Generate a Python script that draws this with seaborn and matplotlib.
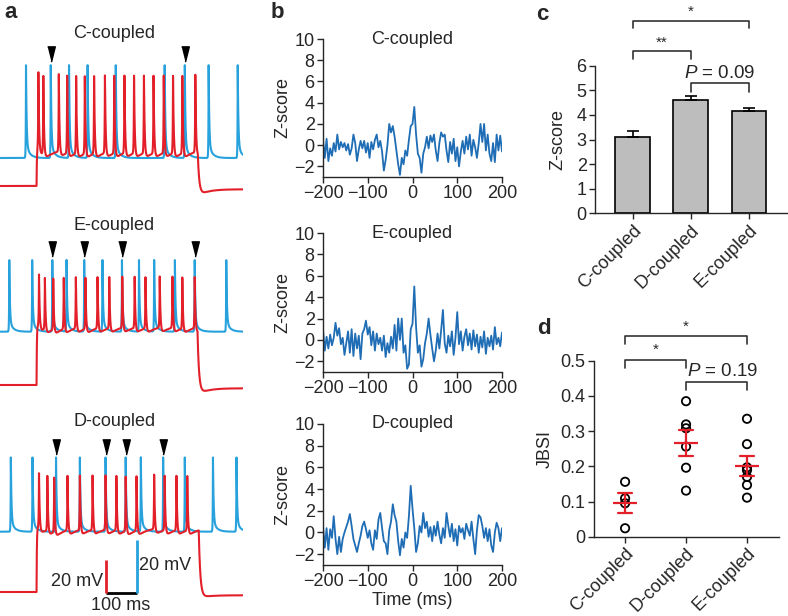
import numpy as np
import pandas as pd
import matplotlib
matplotlib.use("Agg")
import matplotlib.pyplot as plt
import seaborn as sns

sns.set_style("ticks")
plt.rcParams['font.family'] = ['Liberation Sans', 'DejaVu Sans']
plt.rcParams['mathtext.fontset'] = 'custom'
plt.rcParams['mathtext.it'] = 'Liberation Sans:italic'
plt.rcParams['mathtext.rm'] = 'Liberation Sans'

W, H = 788, 616
FS = 13

# ---------------- data ----------------
# panel a: spike times (ms) of the paired recordings
c_blue = [84, 164, 223, 283, 374, 532, 597, 674, 768]
c_red = [124, 140, 190, 217, 246, 274, 304, 339, 369, 402, 433, 465, 496, 529, 559, 589, 631]
e_blue = [30, 104, 169, 215, 272, 331, 394, 449, 498, 565, 629, 731]
e_red = [126, 145, 172, 206, 245, 276, 315, 353, 395, 435, 470, 516, 557, 589, 629]
d_blue = [35, 105, 181, 258, 341, 406, 455, 527, 597, 688, 764]
d_red = [126, 153, 175, 218, 258, 299, 341, 376, 406, 441, 498, 532, 570, 605]
c_coupled = [1, 6]
e_coupled = [2, 4, 6, 10]
d_coupled = [2, 4, 5, 7]
step_on = [118, 118, 118]
step_off = [639, 638, 642]

# panel b: spike-triggered cross-correlograms (z-score), 4 ms bins
lags = np.arange(-200, 201, 4)
z_c = [0.5, -1.2, 0.6, -1.5, -0.3, -1.0, 0.2, -0.6, 1.0, -0.4, 0.3, -0.2, 0.2, -0.5, 0.1, -0.9,
       -0.3, 1.0, 0.2, -1.5, -0.4, 0.4, -0.3, 0.4, -0.7, 0.2, -1.2, 0.3, -0.4, 0.5, 1.0, -0.2,
       0.4, -0.6, -2.4, -1.4, 0.0, 2.0, 1.2, 1.8, 0.8, -0.5, -1.8, -2.8, -1.2, -1.8, -0.5, -1.0,
       0.5, 1.8, 2.0, 3.6, 1.0, -0.8, -1.2, -2.6, -0.8, -0.2, 0.8, -0.3, 0.9, 0.3, 1.0, -0.5,
       -1.5, 0.2, 1.2, 0.8, 1.0, -0.5, -1.6, 0.3, -0.8, 0.6, -1.5, -0.2, -2.0, -0.6, 0.4, -0.8,
       0.8, -0.4, 1.0, -1.0, 0.5, -0.2, -1.2, 0.2, 2.0, 0.3, 2.0, -0.5, 1.0, -0.8, -1.5, 0.2,
       -1.6, 1.0, -0.5, 0.9, -0.6]
z_e = [1.0, -1.0, 0.3, -0.8, 0.5, -0.5, 0.2, 1.6, 0.4, 1.1, -0.4, 0.2, -1.4, -0.3, 0.8, -1.2,
       1.0, -1.5, 0.6, -0.8, 0.4, -1.8, 0.6, 1.0, 1.8, 0.5, 1.2, -0.5, 0.8, -1.0, 0.6, -0.4,
       0.2, -1.0, 0.4, -1.6, -0.3, -1.2, 0.3, -0.8, 1.4, -1.0, 2.0, 0.0, 2.0, -1.2, -0.5, -2.7,
       -2.3, 1.0, 1.5, 5.0, 1.2, -1.2, -0.5, -2.5, -1.8, -0.3, 0.6, 2.0, 0.5, -0.8, -2.0, -1.0,
       0.6, -0.8, 0.9, 2.8, -0.3, -1.2, 0.4, -0.6, 0.8, -1.4, 0.2, 2.6, -0.4, 0.8, -1.0, 0.3,
       1.0, -0.5, 0.6, -0.9, 0.9, -0.6, 0.5, -1.2, 0.3, -0.7, 0.8, -1.3, 0.2, -0.6, 0.4, -0.9,
       1.2, -0.4, 0.2, -0.6, 0.7]
z_d = [0.6, -1.4, 0.4, -1.6, 0.3, -0.5, 1.5, -0.6, -2.0, -0.4, -1.8, -0.6, 0.0, 0.5, 1.0, 1.7,
       0.6, -0.6, -1.2, -1.8, -1.0, -0.3, 0.6, 1.0, 0.3, -0.5, 0.2, -1.0, -1.6, 0.2, -0.6, 1.2,
       1.8, 0.4, -0.8, -1.0, -2.0, 0.2, 1.0, 2.6, 1.6, 1.0, -0.8, -2.1, -0.6, -1.4, 0.0, -0.5,
       1.5, 4.3, 2.2, 0.4, -1.8, -1.0, 0.6, 0.0, 1.8, 0.4, 1.0, -0.4, 0.5, -0.8, 0.6, -0.3,
       1.0, -0.2, -1.0, 0.4, -0.5, 1.8, 0.6, -0.4, 0.8, -0.8, 0.3, -1.2, 0.6, 0.0, 0.4, -0.6,
       0.8, 0.2, -0.3, 1.0, -0.6, -2.0, 0.2, 1.6, 1.4, 0.6, -0.5, 0.4, -0.8, 0.3, -1.2, -1.8,
       0.0, 0.9, 0.4, -0.8, 0.4]

# panel c: peak z-score, mean and s.e.m.
groups = ["C-coupled", "D-coupled", "E-coupled"]
peak_mean = [3.1, 4.6, 4.15]
peak_sem = [0.23, 0.18, 0.15]

# panel d: JBSI per pair
jbsi_c = [0.156, 0.109, 0.095, 0.024]
jbsi_d = [0.385, 0.319, 0.308, 0.256, 0.196, 0.131]
jbsi_e = [0.335, 0.263, 0.197, 0.189, 0.170, 0.147, 0.111]

RED = "#e3202a"
LBLUE = "#27a2dc"
BLUE = "#1f6db5"


def rect(l, t, r, b):
    return [l / W, 1 - b / H, (r - l) / W, (b - t) / H]


fig = plt.figure(figsize=(W / 100, H / 100), dpi=100)


# ---------------- panel a ----------------
def kern(t, ts, rise, decay):
    dt = t - ts
    return np.where(dt < 0, np.exp(-np.abs(dt) / rise), np.exp(-np.abs(dt) / decay))


t = np.arange(0, 785, 0.25)
axa = fig.add_axes(rect(0, 0, 243, 616))
axa.set_xlim(0, 785)
axa.set_ylim(616, 0)
axa.axis("off")

red_scale = 33 / 20   # px per mV
blue_scale = 53 / 20

cells = [
    ("C-coupled", c_blue, c_red, c_coupled, 158, 186, 35, 47, 22, 33),
    ("E-coupled", e_blue, e_red, e_coupled, 331.7, 385, 27, 31, 36, 225),
    ("D-coupled", d_blue, d_red, d_coupled, 531.7, 592, 28, 33, 39, 422),
]
for i, (name, bsp, rsp, cpl, bbase, rbase, bamp, ramp, rstep, ty) in enumerate(cells):
    vb = np.zeros_like(t)
    for s in bsp:
        vb += bamp * (0.86 * kern(t, s, 0.7, 2.0) + 0.14 * kern(t, s, 0.7, 12))
    on, off = step_on[i], step_off[i]
    vr = np.zeros_like(t)
    m_on = (t >= on) & (t < off)
    vr[m_on] = rstep * (1 - np.exp(-(t[m_on] - on) / 1.0))
    m_off = t >= off
    vr[m_off] = rstep * np.exp(-(t[m_off] - off) / 5) - 2 * (1 - np.exp(-(t[m_off] - off) / 5))
    for s in rsp:
        vr += ramp * kern(t, s, 0.9, 2.4)
        dt = np.clip(t - s, 0, None)
        vr -= 4 * np.where(t > s, np.exp(-dt / 30) * (1 - np.exp(-dt / 2)), 0)
    sns.lineplot(x=t, y=bbase - vb * blue_scale, ax=axa, color=LBLUE, lw=1.5)
    sns.lineplot(x=t, y=rbase - vr * red_scale, ax=axa, color=RED, lw=1.5)
    cs = [bsp[k] for k in cpl]
    axa.plot(cs, [bbase - bamp * blue_scale - 11] * len(cs), ls="none", color="k",
             marker=[(-0.5, 1), (0.5, 1), (0, -1)], ms=11)
    axa.text(370, ty, name, ha="center", va="center", fontsize=FS)

# scale bars
sb_x, sb_y = 341, 592.7
axa.plot([sb_x, sb_x + 100], [sb_y, sb_y], color="k", lw=2, solid_capstyle="butt")
axa.plot([sb_x, sb_x], [sb_y, sb_y - 20 * red_scale], color=RED, lw=2, solid_capstyle="butt")
axa.plot([sb_x + 100, sb_x + 100], [sb_y, sb_y - 20 * blue_scale], color=LBLUE, lw=2, solid_capstyle="butt")
axa.text(sb_x - 7, 581, "20 mV", ha="right", va="center", fontsize=FS)
axa.text(sb_x + 107, 566, "20 mV", ha="left", va="center", fontsize=FS)
axa.text(sb_x + 50, 606, "100 ms", ha="center", va="center", fontsize=FS)


def style(ax):
    sns.despine(ax=ax)
    ax.tick_params(direction="out", length=4, width=1, labelsize=FS, pad=2)
    for sp in ax.spines.values():
        sp.set_linewidth(1)


# ---------------- panel b ----------------
b_rects = [(323, 39, 502, 177), (323, 233, 502, 372), (323, 424, 502, 565)]
for (name, z), r in zip([("C-coupled", z_c), ("E-coupled", z_e), ("D-coupled", z_d)], b_rects):
    ax = fig.add_axes(rect(*r))
    sns.lineplot(x=lags, y=z, ax=ax, color=BLUE, lw=1.3)
    ax.set_xlim(-200, 200)
    ax.set_ylim(-3, 10)
    ax.set_xticks([-200, -100, 0, 100, 200])
    ax.set_yticks(range(-2, 11, 2))
    ax.set_ylabel("Z-score", fontsize=FS, labelpad=2)
    ax.text(0, 10, name, ha="center", va="center", fontsize=FS)
    style(ax)
ax.set_xlabel("Time (ms)", fontsize=FS, labelpad=1)


def bracket(ax, x1, x2, y, h, txt, ty, tx=None, fs=FS):
    ax.plot([x1, x1, x2, x2], [y - h, y, y, y - h], color="#333333", lw=1.2, clip_on=False)
    ax.text((x1 + x2) / 2 if tx is None else tx, ty, txt, ha="center", va="center",
            fontsize=fs, clip_on=False)


# ---------------- panel c ----------------
axc = fig.add_axes(rect(595, 65.7, 786.7, 213.3))
dfc = pd.DataFrame({"group": groups, "z": peak_mean})
sns.barplot(data=dfc, x="group", y="z", ax=axc, color="#bdbdbd", edgecolor="k",
            linewidth=1.2, width=0.6, saturation=1)
axc.errorbar(range(len(groups)), peak_mean, yerr=[np.zeros(3), peak_sem], fmt="none",
             ecolor="k", elinewidth=1.2, capsize=4.5, capthick=1.2, zorder=1)
axc.set_xlim(-0.65, 2.65)
axc.set_ylim(0, 6)
axc.set_yticks(range(0, 7))
axc.set_xlabel("")
axc.set_ylabel("Z-score", fontsize=FS, labelpad=7)
axc.set_xticks(range(3))
axc.set_xticklabels(groups, rotation=45, ha="right", rotation_mode="anchor")
style(axc)
bracket(axc, 0, 2, 7.83, 0.3, "*", 8.2, fs=11)
bracket(axc, 0, 1, 6.61, 0.34, "**", 6.95, fs=11)
bracket(axc, 1, 2, 5.28, 0.34, "$P$ = 0.09", 5.7, fs=13.5)

# ---------------- panel d ----------------
axd = fig.add_axes(rect(594, 360.7, 779.3, 536.7))
dfd = pd.DataFrame({
    "group": ["C-coupled"] * len(jbsi_c) + ["D-coupled"] * len(jbsi_d) + ["E-coupled"] * len(jbsi_e),
    "jbsi": jbsi_c + jbsi_d + jbsi_e,
})
sns.stripplot(data=dfd, x="group", y="jbsi", order=groups, ax=axd, jitter=False,
              size=6, facecolor="none", edgecolor="k", linewidth=1.3, zorder=2)
sns.pointplot(data=dfd, x="group", y="jbsi", order=groups, ax=axd, errorbar="se",
              color=RED, marker="_", markersize=17, markeredgewidth=1.6, linestyle="none",
              capsize=0.22, err_kws={"linewidth": 1.6})
axd.set_xlim(-0.51, 2.53)
axd.set_ylim(0, 0.5)
axd.set_yticks([0, 0.1, 0.2, 0.3, 0.4, 0.5])
axd.set_yticklabels(["0", "0.1", "0.2", "0.3", "0.4", "0.5"])
axd.set_xlabel("")
axd.set_ylabel("JBSI", fontsize=FS, labelpad=5)
axd.set_xticks(range(3))
axd.set_xticklabels(groups, rotation=45, ha="right", rotation_mode="anchor")
style(axd)
bracket(axd, 0, 2, 0.570, 0.023, "*", 0.595, fs=11)
bracket(axd, 0, 1, 0.502, 0.024, "*", 0.530, fs=11)
bracket(axd, 1, 2, 0.439, 0.022, "$P$ = 0.19", 0.469, tx=1.6, fs=13.5)

# panel letters
for lbl, x, y in [("a", 4, 13), ("b", 271, 13), ("c", 536, 15), ("d", 537, 328)]:
    fig.text(x / W, 1 - y / H, lbl, fontsize=16, fontweight="bold", ha="left", va="center")

fig.savefig("out.png", dpi=100)
